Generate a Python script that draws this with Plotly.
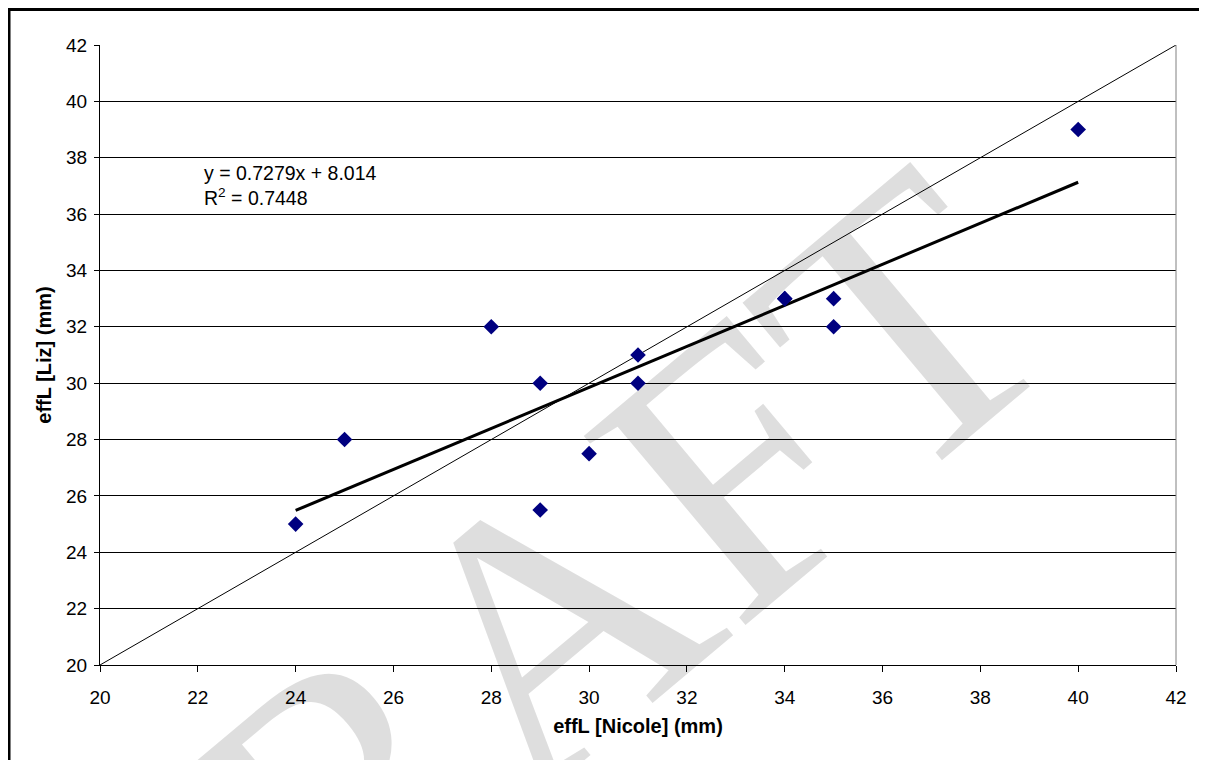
import plotly.graph_objects as go

# Data
nicole = [24, 25, 28, 29, 29, 30, 31, 31, 34, 34, 35, 35, 40]
liz = [25, 28, 32, 30, 25.5, 27.5, 31, 30, 33, 33, 33, 32, 39]

# Trendline as printed on the chart
slope = 0.7279
intercept = 8.014
trend_x = [24, 40]
trend_y = [slope * v + intercept for v in trend_x]

# y = x reference line
ref_x = [20, 42]
ref_y = [20, 42]

tick_vals = list(range(20, 43, 2))

# Page body has an 8px margin at the top-left
OFF = 8
W, H = 1207 - OFF, 760 - OFF
L, T = 100 - OFF, 45 - OFF
pw, ph = 1076, 620
R = W - L - pw
B = H - T - ph


def sx(px):
    """screen pixel x -> paper x"""
    return (px - OFF - L) / pw


def sy(py):
    """screen pixel y -> paper y"""
    return (T + ph - (py - OFF)) / ph


fig = go.Figure()

fig.add_trace(go.Scatter(x=ref_x, y=ref_y, mode="lines",
                         line=dict(color="black", width=1), hoverinfo="skip",
                         showlegend=False))
fig.add_trace(go.Scatter(x=trend_x, y=trend_y, mode="lines",
                         line=dict(color="black", width=3), hoverinfo="skip",
                         showlegend=False))
fig.add_trace(go.Scatter(x=nicole, y=liz, mode="markers",
                         marker=dict(symbol="diamond", size=12, color="#000080",
                                     line=dict(width=0)),
                         showlegend=False))

font = "Liberation Sans, Arial, sans-serif"

fig.update_layout(
    width=W, height=H,
    margin=dict(l=L, r=R, t=T, b=B, autoexpand=False),
    paper_bgcolor="white", plot_bgcolor="white",
    showlegend=False,
    font=dict(family=font, color="black", size=19),
    xaxis=dict(range=[20, 42], tickvals=tick_vals, ticks="outside", ticklen=6,
               tickcolor="black", showgrid=False, zeroline=False,
               showline=True, linecolor="black", linewidth=1,
               tickfont=dict(size=19), ticklabelstandoff=9,
               title=dict(text="<b>effL [Nicole] (mm)</b>", font=dict(size=20),
                          standoff=12)),
    yaxis=dict(range=[20, 42], tickvals=tick_vals, ticks="outside", ticklen=5,
               tickcolor="black", showgrid=True, gridcolor="black", gridwidth=1,
               zeroline=False, showline=True, linecolor="black", linewidth=1,
               tickfont=dict(size=19), ticklabelstandoff=3,
               title=dict(text="<b>effL [Liz] (mm)</b>", font=dict(size=20),
                          standoff=9)),
)

# Watermark (semi-transparent so lines show through)
fig.add_annotation(
    text="DRAFT", xref="paper", yref="paper",
    x=sx(515), y=sy(650), xanchor="center", yanchor="middle",
    showarrow=False, textangle=-40,
    font=dict(family="Liberation Serif, Times New Roman, serif", size=380,
              color="rgba(0,0,0,0.13)"),
)

# Trendline equation
fig.add_annotation(
    text="y = 0.7279x + 8.014<br>R<sup>2</sup> = 0.7448",
    x=sx(202), y=sy(160), xref="paper", yref="paper", xanchor="left",
    yanchor="top", align="left", showarrow=False, font=dict(size=19.5),
)

# Plot area right border (gray) and outer frame
fig.add_shape(type="line", xref="paper", yref="paper", x0=1, x1=1, y0=0, y1=1,
              line=dict(color="#808080", width=1))
fig.add_shape(type="rect", xref="paper", yref="paper",
              x0=sx(9), x1=sx(1260), y0=sy(800), y1=sy(9.5),
              line=dict(color="black", width=3))

fig.write_html("out.html")
